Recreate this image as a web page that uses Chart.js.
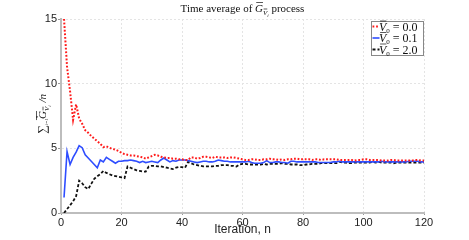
<!DOCTYPE html>
<html>
<head>
<meta charset="utf-8">
<script src="https://cdn.jsdelivr.net/npm/chart.js@4"></script>
<style>
  html, body { margin: 0; padding: 0; background: #fff; }
</style>
</head>
<body>
<canvas id="timeAverage" width="469" height="240"></canvas>
<script>
// values, n = 1..120
const v0_00 = [
  15.0, 11.3, 9.4, 7.2, 8.4, 7.3, 6.9, 6.4, 6.2, 5.95,
  5.75, 5.55, 5.35, 5.1, 5.15, 5.05, 4.95, 4.9, 4.8, 4.65,
  4.55, 4.5, 4.45, 4.45, 4.4, 4.35, 4.3, 4.2, 4.3, 4.4,
  4.5, 4.45, 4.35, 4.3, 4.25, 4.25, 4.2, 4.2, 4.15, 4.15,
  4.1, 4.1, 4.3, 4.3, 4.2, 4.25, 4.35, 4.35, 4.3, 4.25,
  4.35, 4.3, 4.3, 4.3, 4.25, 4.3, 4.3, 4.25, 4.2, 4.15,
  4.1, 4.1, 4.15, 4.15, 4.1, 4.1, 4.15, 4.15, 4.2, 4.15,
  4.15, 4.1, 4.15, 4.1, 4.15, 4.15, 4.2, 4.2, 4.15, 4.15,
  4.15, 4.15, 4.1, 4.15, 4.15, 4.1, 4.15, 4.15, 4.15, 4.15,
  4.15, 4.1, 4.1, 4.1, 4.1, 4.1, 4.05, 4.1, 4.1, 4.15,
  4.15, 4.1, 4.1, 4.1, 4.1, 4.05, 4.05, 4.05, 4.1, 4.1,
  4.05, 4.05, 4.05, 4.05, 4.05, 4.05, 4.1, 4.1, 4.05, 4.05
];
const v0_01 = [
  1.2, 4.75, 3.75, 4.3, 4.7, 5.2, 5.05, 4.5, 4.25, 4.0,
  3.75, 3.5, 4.1, 3.95, 4.3, 4.15, 4.0, 3.85, 4.0, 4.0,
  4.05, 4.05, 4.1, 4.05, 4.0, 3.9, 4.0, 3.9, 3.95, 4.0,
  3.95, 3.9, 4.1, 4.25, 4.1, 3.95, 4.05, 4.0, 4.1, 4.1,
  4.1, 4.05, 4.0, 3.95, 3.9, 3.95, 4.0, 4.0, 3.95, 3.95,
  4.0, 4.1, 4.05, 4.0, 4.0, 3.95, 3.95, 3.95, 3.95, 3.95,
  3.95, 4.0, 3.9, 3.85, 3.85, 3.85, 3.9, 4.05, 3.9, 3.9,
  3.95, 3.95, 3.9, 3.9, 3.85, 4.0, 4.0, 3.95, 3.95, 3.95,
  3.95, 3.95, 3.95, 3.95, 3.9, 3.9, 3.9, 3.9, 3.9, 3.95,
  3.95, 4.0, 3.95, 3.95, 3.95, 3.95, 3.95, 3.95, 3.95, 3.95,
  3.95, 3.95, 3.95, 3.95, 3.95, 4.0, 3.95, 3.95, 3.95, 3.95,
  3.95, 3.95, 3.95, 3.95, 4.0, 4.0, 4.0, 4.0, 3.95, 3.95
];
const v0_20 = [
  0.0, 0.3, 0.6, 0.9, 1.3, 2.5, 2.3, 2.0, 1.85, 2.25,
  2.65, 2.85, 3.0, 3.25, 3.1, 3.0, 2.9, 2.85, 2.8, 2.75,
  2.7, 3.6, 3.5, 3.4, 3.3, 3.25, 3.2, 3.2, 3.6, 3.65,
  3.65, 3.6, 3.6, 3.55, 3.5, 3.45, 3.4, 3.5, 3.55, 3.55,
  3.5, 3.95, 3.85, 3.75, 3.7, 3.65, 3.6, 3.6, 3.6, 3.6,
  3.65, 3.65, 3.7, 3.7, 3.7, 3.65, 3.65, 3.6, 3.75, 3.8,
  3.8, 3.75, 3.75, 3.75, 3.75, 3.75, 3.8, 3.75, 3.8, 3.8,
  3.8, 3.8, 3.85, 3.8, 3.8, 3.75, 3.75, 3.75, 3.7, 3.7,
  3.75, 3.75, 3.8, 3.8, 3.8, 3.85, 3.85, 3.85, 3.85, 3.85,
  3.85, 3.95, 3.9, 3.9, 3.85, 3.85, 3.9, 3.9, 3.9, 3.9,
  3.9, 3.9, 3.95, 3.9, 3.95, 3.9, 3.9, 3.9, 3.9, 3.85,
  3.9, 3.9, 3.9, 3.9, 3.9, 3.9, 3.9, 3.9, 3.9, 3.9
];
const seriesNames = ['0.0', '0.1', '2.0'];
const xTicks = [0, 20, 40, 60, 80, 100, 120];
const yTicks = [0, 5, 10, 15];

const toPoints = vals => vals.map((v, i) => ({ x: i + 1, y: v }));

const SERIF = '"Liberation Serif", "DejaVu Serif", serif';
const SANS = '"Liberation Sans", Arial, sans-serif';

// draws a row of text pieces (with optional overline / baseline shift)
function drawPieces(ctx, pieces, x, y, align) {
  let total = 0;
  pieces.forEach(p => {
    ctx.font = p.font;
    p.w = ctx.measureText(p.t).width;
    total += p.w + (p.gap || 0);
  });
  let cx = align === 'center' ? x - total / 2 : x;
  ctx.textAlign = 'left';
  ctx.textBaseline = 'alphabetic';
  pieces.forEach(p => {
    ctx.font = p.font;
    const by = y + (p.dy || 0);
    ctx.fillText(p.t, cx, by);
    if (p.over) {
      ctx.beginPath();
      ctx.lineWidth = 0.7;
      ctx.moveTo(cx + p.w * 0.15, by - p.over);
      ctx.lineTo(cx + p.w * 1.0, by - p.over);
      ctx.stroke();
    }
    cx += p.w + (p.gap || 0);
  });
}

const textPlugin = {
  id: 'mathText',
  afterDraw(chart) {
    const ctx = chart.ctx;
    const area = chart.chartArea;
    ctx.save();
    ctx.fillStyle = '#111';
    ctx.strokeStyle = '#111';

    // title
    drawPieces(ctx, [
      { t: 'Time average of ', font: '11px ' + SERIF },
      { t: 'G', font: 'italic 11px ' + SERIF, over: 9.5 },
      { t: 'V', font: 'italic 7px ' + SERIF, dy: 3, over: 6 },
      { t: 'i', font: 'italic 5px ' + SERIF, dy: 5 },
      { t: ' process', font: '11px ' + SERIF }
    ], (area.left + area.right) / 2, 12, 'center');

    // x axis title
    ctx.fillStyle = '#222';
    ctx.font = '12px ' + SANS;
    ctx.textAlign = 'center';
    ctx.textBaseline = 'middle';
    ctx.fillText('Iteration, n', (area.left + area.right) / 2, 230);

    // y axis title, rotated
    ctx.save();
    ctx.translate(46, 114);
    ctx.rotate(-Math.PI / 2);
    ctx.fillStyle = '#111';
    ctx.strokeStyle = '#111';
    drawPieces(ctx, [
      { t: '\u2211', font: '12px ' + SERIF },
      { t: 'i=1', font: 'italic 5px ' + SERIF, dy: 2 },
      { t: 'n', font: 'italic 5px ' + SERIF, dy: -8, gap: -6 },
      { t: ' G', font: 'italic 11px ' + SERIF, over: 9.5 },
      { t: 'V', font: 'italic 7px ' + SERIF, dy: 3, over: 6 },
      { t: 'i', font: 'italic 5px ' + SERIF, dy: 5 },
      { t: ' /n', font: 'italic 11px ' + SERIF }
    ], 0, 0, 'center');
    ctx.restore();

    // legend box
    const lx = 371, ly = 21, lw = 52, lh = 34;
    ctx.fillStyle = '#fff';
    ctx.fillRect(lx, ly, lw, lh);
    ctx.strokeStyle = '#888';
    ctx.lineWidth = 1;
    ctx.strokeRect(lx + 0.5, ly + 0.5, lw, lh);
    chart.data.datasets.forEach((ds, i) => {
      const cy = 26.5 + i * 11.5;
      ctx.save();
      ctx.strokeStyle = ds.borderColor;
      ctx.lineWidth = ds.borderWidth;
      ctx.setLineDash(ds.borderDash || []);
      ctx.beginPath();
      ctx.moveTo(lx + 1.5, cy);
      ctx.lineTo(lx + 8.5, cy);
      ctx.stroke();
      ctx.restore();
      ctx.fillStyle = '#111';
      ctx.strokeStyle = '#111';
      drawPieces(ctx, [
        { t: 'V', font: 'italic 12px ' + SERIF, over: 9.5 },
        { t: '0', font: '7px ' + SERIF, dy: 2 },
        { t: ' = ' + seriesNames[i], font: '12px ' + SERIF }
      ], lx + 8, cy + 4, 'left');
    });
    ctx.restore();
  }
};

new Chart(document.getElementById('timeAverage'), {
  type: 'line',
  data: {
    datasets: [{
      label: seriesNames[0],
      data: toPoints(v0_00),
      borderColor: '#ff1a1a',
      borderWidth: 2,
      borderDash: [1.8, 1.8],
      pointRadius: 0,
      tension: 0
    }, {
      label: seriesNames[1],
      data: toPoints(v0_01),
      borderColor: '#2e4dff',
      borderWidth: 1.6,
      pointRadius: 0,
      tension: 0
    }, {
      label: seriesNames[2],
      data: toPoints(v0_20),
      borderColor: '#111',
      borderWidth: 1.8,
      borderDash: [3, 2],
      pointRadius: 0,
      tension: 0
    }]
  },
  options: {
    responsive: false,
    animation: false,
    layout: {
      padding: { left: 0, right: 45, top: 19, bottom: 0 }
    },
    scales: {
      x: {
        type: 'linear',
        min: 0,
        max: 120,
        afterFit: s => { s.height = 27; },
        afterBuildTicks: s => { s.ticks = xTicks.map(v => ({ value: v })); },
        grid: {
          color: '#e4e4e4',
          tickColor: '#999',
          tickLength: 2
        },
        border: {
          color: '#bdbdbd',
          width: 2,
          dash: [2, 2]
        },
        ticks: {
          color: '#222',
          padding: 1,
          maxRotation: 0,
          font: { family: SANS, size: 11 }
        }
      },
      y: {
        min: 0,
        max: 15,
        afterFit: s => { s.width = 61; },
        afterBuildTicks: s => { s.ticks = yTicks.map(v => ({ value: v })); },
        grid: {
          color: '#e4e4e4',
          tickColor: '#999',
          tickLength: 3
        },
        border: {
          color: '#bdbdbd',
          width: 2,
          dash: [2, 2]
        },
        ticks: {
          color: '#222',
          padding: 1,
          font: { family: SANS, size: 11 }
        }
      }
    },
    plugins: {
      legend: { display: false },
      title: { display: false },
      tooltip: { enabled: false }
    }
  },
  plugins: [textPlugin]
});
</script>
</body>
</html>
